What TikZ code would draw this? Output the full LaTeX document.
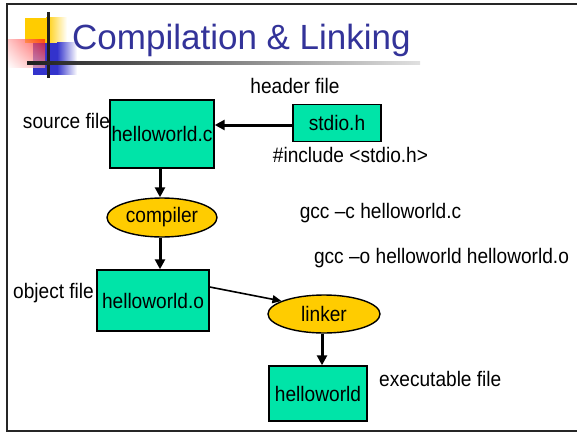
\documentclass[tikz,border=0pt]{standalone}
\usepackage{fontspec}
\setmainfont{Liberation Sans}
\newfontfamily\narrowsans[FakeStretch=0.91]{Liberation Sans}
\usetikzlibrary{shapes.geometric,arrows.meta,shadings}
\definecolor{boxgreen}{RGB}{0,228,168}
\definecolor{ellyellow}{RGB}{255,204,0}
\definecolor{titleblue}{RGB}{51,51,153}
\definecolor{logoblue}{RGB}{51,51,204}
\definecolor{logored}{RGB}{255,20,20}
\begin{document}
\begin{tikzpicture}[x=1pt,y=-1pt,
  lbl/.style={inner sep=0pt,font=\narrowsans\fontsize{21}{21}\selectfont},
  filebox/.style={draw=black,line width=1.4pt,fill=boxgreen,inner sep=0pt,font=\narrowsans\fontsize{21}{21}\selectfont},
  toolell/.style={ellipse,draw=black,line width=1.4pt,fill=ellyellow,inner sep=0pt,font=\narrowsans\fontsize{21}{21}\selectfont},
  thickarr/.style={line width=3pt,-{Triangle[length=10pt,width=10pt]}},
  thinarr/.style={line width=1.6pt,-{Triangle[length=9pt,width=8pt]}}]
\useasboundingbox (0,0) rectangle (577,433);
\fill[white] (0,0) rectangle (577,433);
% frame
\draw[line width=2.2pt,black!85] (577,4) -- (7,4) -- (7,431) -- (577,431);
% logo
\fill[ellyellow] (25,18) rectangle (46,43);
\shade[left color=ellyellow,right color=white] (46,18) rectangle (67,43);
\fill[logoblue] (33,43) rectangle (57,75);
\shade[left color=logoblue,right color=white] (57,43) rectangle (77,75);
\shade[opacity=0.7,upper right=logored,upper left=logored!35,lower right=logored!45,lower left=white] (8,40) rectangle (45,68);
\draw[line width=3pt,black!88] (48,12) -- (48,78);
\shade[left color=black!88,middle color=black!70,right color=black!12] (27,61.5) rectangle (420,64.5);
% title
\node[anchor=base west,inner sep=0pt,text=titleblue,font=\fontsize{35}{35}\selectfont] (title) at (72,50) {Compilation \& Linking};
% nodes
\node[filebox,minimum width=104pt,minimum height=68pt] (hc) at (162,134) {helloworld.c};
\node[filebox,minimum width=88pt,minimum height=37pt] (stdio) at (337,123) {stdio.h};
\node[toolell,minimum width=110pt,minimum height=39pt] (compiler) at (162,217.5) {compiler};
\node[filebox,minimum width=112pt,minimum height=61pt] (ho) at (153,300.5) {helloworld.o};
\node[toolell,minimum width=112pt,minimum height=38pt] (linker) at (324,314) {linker};
\node[filebox,minimum width=98pt,minimum height=55pt] (hw) at (318,393.5) {helloworld};
% labels
\node[lbl] (hdr) at (295,86) {header file};
\node[lbl] (src) at (66.5,121) {source file};
\node[lbl] (incl) at (350.5,155) {\#include <stdio.h>};
\node[lbl] (gccc) at (380.5,213) {gcc –c helloworld.c};
\node[lbl] (gcco) at (441.5,258) {gcc –o helloworld helloworld.o};
\node[lbl] (obj) at (53.5,293) {object file};
\node[lbl,anchor=west] (exe) at (379,379) {executable file};
% connectors
\draw[thickarr] ([yshift=-2pt]stdio.west) -- ([yshift=-2pt]hc.east |- stdio.west);
\draw[thickarr] ([xshift=-2pt]hc.south) -- ([xshift=-2pt]compiler.north);
\draw[thickarr] ([xshift=-2pt]compiler.south) -- ([xshift=-2pt]compiler.south |- ho.north);
\draw[thinarr] ([yshift=13.5pt]ho.east) -- (linker.163);
\draw[thickarr] ([xshift=-2pt]linker.south) -- ([xshift=-2pt]linker.south |- hw.north);
\end{tikzpicture}
\end{document}
